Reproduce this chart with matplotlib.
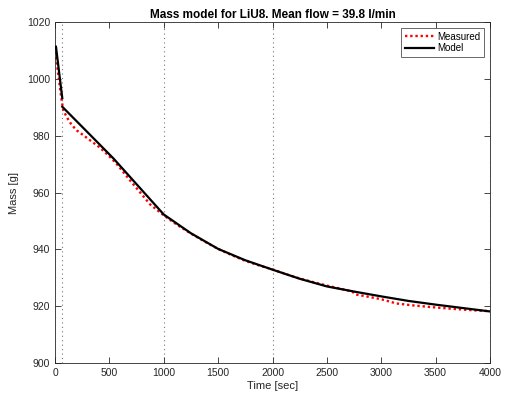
"""
Mass model vs measured mass, MATLAB style figure.
"""
import matplotlib
matplotlib.use('Agg')
import matplotlib.pyplot as plt
import numpy

# Measured mass [g] over time [sec]
t_meas = [0, 20, 37, 61, 76, 107, 150, 199, 260, 322, 400, 460, 506, 560, 620,
          690, 780, 873, 1000, 1125, 1250, 1375, 1500, 1625, 1750, 1875, 2000,
          2125, 2250, 2375, 2500, 2625, 2700, 2740, 2760, 2850, 3000, 3140,
          3300, 3500, 3700, 3850, 4000]
m_meas = [1011.3, 1004.5, 999.5, 992.5, 989.0, 986.6, 984.0, 981.9, 980.2, 978.4,
          976.2, 974.2, 972.5, 970.4, 967.6, 964.3, 960.2, 955.9, 952.0, 948.6,
          945.6, 942.8, 940.2, 938.0, 936.0, 934.4, 933.0, 931.3, 929.8, 928.5,
          927.3, 926.2, 925.5, 925.0, 924.2, 923.6, 922.5, 921.0, 920.3, 919.6,
          919.0, 918.6, 918.3]

# Model mass [g], two pieces (break at the first dotted line)
t_model = [9, 67, numpy.nan, 67, 300, 540, 1000, 1250, 1500, 1750, 2000,
           2250, 2500, 2750, 3000, 3250, 3500, 3750, 4000]
m_model = [1011.3, 993.2, numpy.nan, 990.2, 981.2, 971.9, 952.3, 945.7, 940.2,
           936.2, 932.9, 929.7, 927.0, 925.2, 923.5, 921.9, 920.6, 919.4, 918.2]

# Dotted vertical marker lines
t_marks = [67, 1000, 2000, 4000]

text_color = '#262626'
plt.rcParams['font.family'] = ['Liberation Sans', 'DejaVu Sans']

fig = plt.figure(figsize=(5.06, 4.0), dpi=100)
ax = fig.add_axes([0.1087, 0.092, 0.8597, 0.853])

for t in t_marks:
    ax.axvline(t, color='#777777', linestyle=(0, (1, 3)), linewidth=0.8, zorder=1)

ax.plot(t_meas, m_meas, color='red', linestyle=(0, (1, 1.2)), linewidth=1.7,
        label='Measured', zorder=2)
ax.plot(t_model, m_model, color='black', linestyle='-', linewidth=1.6,
        label='Model', zorder=3)

ax.set_xlim(0, 4000)
ax.set_ylim(900, 1020)
ax.set_xticks(numpy.arange(0, 4001, 500))
ax.set_yticks(numpy.arange(900, 1021, 20))

ax.tick_params(direction='in', top=True, right=True, labelsize=7.5,
               colors=text_color, length=4, width=0.6)
for s in ax.spines.values():
    s.set_color(text_color)
    s.set_linewidth(0.6)

ax.set_title('Mass model for LiU8. Mean flow = 39.8 l/min', fontsize=8.5,
             fontweight='bold', color='black', pad=3)
ax.set_xlabel('Time [sec]', fontsize=8, color=text_color, labelpad=2)
ax.set_ylabel('Mass [g]', fontsize=8, color=text_color, labelpad=6)

legend = ax.legend(loc='upper right', fontsize=7, frameon=True, fancybox=False,
                   borderpad=0.4, labelspacing=0.15, handlelength=3.0,
                   handletextpad=0.3, borderaxespad=0.6)
legend.get_frame().set_edgecolor(text_color)
legend.get_frame().set_linewidth(0.6)

fig.savefig('out.png', dpi=100)
